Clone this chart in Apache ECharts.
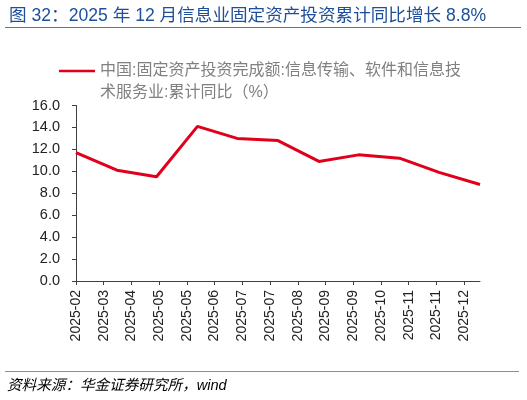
<!DOCTYPE html>
<html>
<head>
<meta charset="utf-8">
<script src="https://cdn.jsdelivr.net/npm/echarts@6/dist/echarts.min.js"></script>
<style>
html,body{margin:0;padding:0;background:#fff;}
#chart{width:527px;height:400px;}
</style>
</head>
<body>
<div id="chart"></div>
<script>
// Data (month-end observations)
var dates = ['2025-02-28','2025-03-31','2025-04-30','2025-05-31','2025-06-30','2025-07-31','2025-08-31','2025-09-30','2025-10-31','2025-11-30','2025-12-31'];
var values = [11.7, 10.1, 9.5, 14.1, 13.0, 12.8, 10.9, 11.5, 11.2, 9.9, 8.8];
// X-axis ticks (every 21 days, as in the source chart) and their labels
var tickDates = ['2025-02-28','2025-03-21','2025-04-11','2025-05-02','2025-05-23','2025-06-13','2025-07-04','2025-07-25','2025-08-15','2025-09-05','2025-09-26','2025-10-17','2025-11-07','2025-11-28','2025-12-19'];
var tickLabels = ['2025-02','2025-03','2025-04','2025-05','2025-05','2025-06','2025-07','2025-07','2025-08','2025-09','2025-09','2025-10','2025-11','2025-11','2025-12'];
var yTicks = [0, 2, 4, 6, 8, 10, 12, 14, 16];
var seriesName = '中国:固定资产投资完成额:信息传输、软件和信息技术服务业:累计同比（%）';
var legendLine1 = '中国:固定资产投资完成额:信息传输、软件和信息技';
var legendLine2 = '术服务业:累计同比（%）';
var titleText = '图 32：2025 年 12 月信息业固定资产投资累计同比增长 8.8%';

function day(s){ var p = s.split('-'); return Math.round((Date.UTC(+p[0], +p[1]-1, +p[2]) - Date.UTC(2025, 1, 28)) / 86400000); }
var tickDays = tickDates.map(day);
var seriesData = dates.map(function(d, i){ return [day(d), values[i]]; });

var FONT = '"Liberation Sans", Arial, "Noto Sans CJK SC", sans-serif';
var chart = echarts.init(document.getElementById('chart'), null, {renderer: 'canvas'});
chart.setOption({
  animation: false,
  backgroundColor: '#fff',
  title: {
    text: titleText,
    left: 4, top: 2,
    textStyle: {fontFamily: FONT, fontSize: 17.6, fontWeight: 'normal', color: '#1d4f9a'}
  },
  graphic: [
    {type: 'line', shape: {x1: 5, y1: 27.5, x2: 521, y2: 27.5}, style: {stroke: '#3f7fc4', lineWidth: 1.2}},
    {type: 'line', shape: {x1: 5, y1: 371.5, x2: 519, y2: 371.5}, style: {stroke: '#5b9bd5', lineWidth: 1.2}},
    {type: 'text', left: 100, top: 85, style: {
      text: legendLine2,
      font: '16px "Liberation Sans", Arial, "Noto Sans CJK SC", sans-serif',
      fill: '#808080'
    }},
    {type: 'text', left: 7, top: 379, style: {
      text: '{a|资料来源：华金证券研究所，}{b|wind}',
      rich: {
        a: {fontFamily: FONT, fontSize: 14.6, fontStyle: 'italic', color: '#7c98c4'},
        b: {fontFamily: FONT, fontSize: 14.6, fontStyle: 'italic', color: '#1d3f8a'}
      }
    }}
  ],
  legend: {
    show: true,
    left: 59, top: 63,
    itemWidth: 36, itemHeight: 16, itemGap: 10, padding: 0,
    icon: 'path://M0,7 L36,7 L36,9.6 L0,9.6 Z',
    formatter: function(){ return legendLine1; },
    textStyle: {fontFamily: FONT, fontSize: 16, color: '#808080'}
  },
  grid: {left: 76, right: 47, top: 105.5, bottom: 119, containLabel: false},
  xAxis: {
    type: 'value',
    min: day(dates[0]), max: day(dates[dates.length - 1]),
    axisLine: {lineStyle: {color: '#404040', width: 1}},
    axisTick: {show: true, length: 4, customValues: tickDays, lineStyle: {color: '#404040'}},
    splitLine: {show: false},
    axisLabel: {
      customValues: tickDays,
      rotate: 90, margin: 9,
      fontFamily: FONT, fontSize: 14, color: '#222',
      formatter: function(v){ var i = tickDays.indexOf(v); return i >= 0 ? tickLabels[i] : ''; }
    }
  },
  yAxis: {
    type: 'value',
    min: yTicks[0], max: yTicks[yTicks.length - 1], interval: 2,
    axisLine: {show: true, lineStyle: {color: '#404040', width: 1}},
    axisTick: {show: true, length: 4, inside: false, lineStyle: {color: '#404040'}},
    splitLine: {show: false},
    axisLabel: {
      margin: 16, fontFamily: FONT, fontSize: 14.5, color: '#222',
      formatter: function(v){ return v.toFixed(1); }
    }
  },
  series: [{
    name: seriesName,
    type: 'line',
    data: seriesData,
    symbol: 'none',
    lineStyle: {color: '#e0001b', width: 3},
    itemStyle: {color: '#e0001b'}
  }]
});
</script>
</body>
</html>
